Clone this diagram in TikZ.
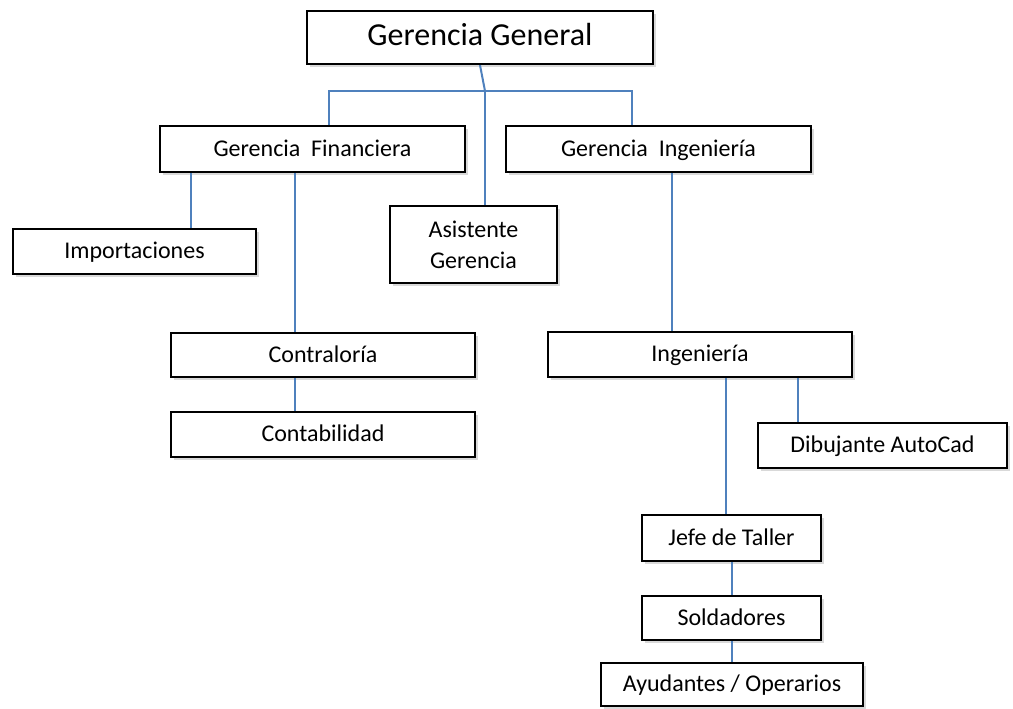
\documentclass[tikz,border=0pt]{standalone}
\usepackage{fontspec}
\setmainfont{Carlito}
\usetikzlibrary{shadows}
\definecolor{linkblue}{RGB}{79,129,189}
\begin{document}
\begin{tikzpicture}[
x=1pt,y=-1pt,
box/.style={rectangle,draw,line width=2.2pt,fill=white,inner sep=0pt,align=center,
  font=\fontsize{24}{31}\selectfont,text height=17pt,text depth=3pt,
  drop shadow={shadow xshift=3pt,shadow yshift=-3pt,opacity=0.3}},
link/.style={draw=linkblue,line width=2pt},
]
\useasboundingbox (0,0) rectangle (1013,709);
\node[box,minimum width=346pt,minimum height=53pt,font=\fontsize{32}{36}\selectfont,text height=22pt,text depth=5pt] (gg) at (480,37.5) {Gerencia General};
\node[box,minimum width=305pt,minimum height=46pt] (gf) at (312.5,149) {Gerencia~~Financiera};
\node[box,minimum width=305pt,minimum height=46pt] (gi) at (658.5,149) {Gerencia~~Ingeniería};
\node[box,minimum width=243pt,minimum height=45pt] (imp) at (134.5,251.5) {Importaciones};
\node[box,minimum width=167pt,minimum height=77pt,text height=,text depth=] (asis) at (473.5,244.5) {Asistente\\Gerencia};
\node[box,minimum width=304pt,minimum height=44pt] (contr) at (323,355) {Contraloría};
\node[box,minimum width=304pt,minimum height=45pt] (contab) at (323,434.5) {Contabilidad};
\node[box,minimum width=304pt,minimum height=45pt] (ing) at (700,354.5) {Ingeniería};
\node[box,minimum width=249pt,minimum height=45pt] (dib) at (882.5,445.5) {Dibujante AutoCad};
\node[box,minimum width=179pt,minimum height=46pt] (jefe) at (731.5,538) {Jefe de Taller};
\node[box,minimum width=179pt,minimum height=44pt] (sold) at (731.5,618) {Soldadores};
\node[box,minimum width=262pt,minimum height=43pt] (ayu) at (732,684.5) {Ayudantes / Operarios};

\coordinate (hub) at (485,91);
\coordinate (fin) at ([xshift=32]gf.south west);
\coordinate (con) at ([xshift=136]gf.south west);
\coordinate (eng) at ([xshift=167]gi.south west);
\coordinate (taller) at ([xshift=179]ing.south west);
\coordinate (cad) at ([xshift=251]ing.south west);
\draw[link] (gg.south) -- (hub);
\draw[link] (gf.north -| 329,0) |- (hub) -| (gi.north -| 632,0);
\draw[link] (hub) -- (asis.north -| hub);
\draw[link] (fin) -- (imp.north -| fin);
\draw[link] (con) -- (contr.north -| con);
\draw[link] (contr.south -| con) -- (contab.north -| con);
\draw[link] (eng) -- (ing.north -| eng);
\draw[link] (taller) -- (jefe.north -| taller);
\draw[link] (cad) -- (dib.north -| cad);
\draw[link] (jefe.south -| 732,0) -- (sold.north -| 732,0);
\draw[link] (sold.south -| 732,0) -- (ayu.north -| 732,0);
\end{tikzpicture}
\end{document}
